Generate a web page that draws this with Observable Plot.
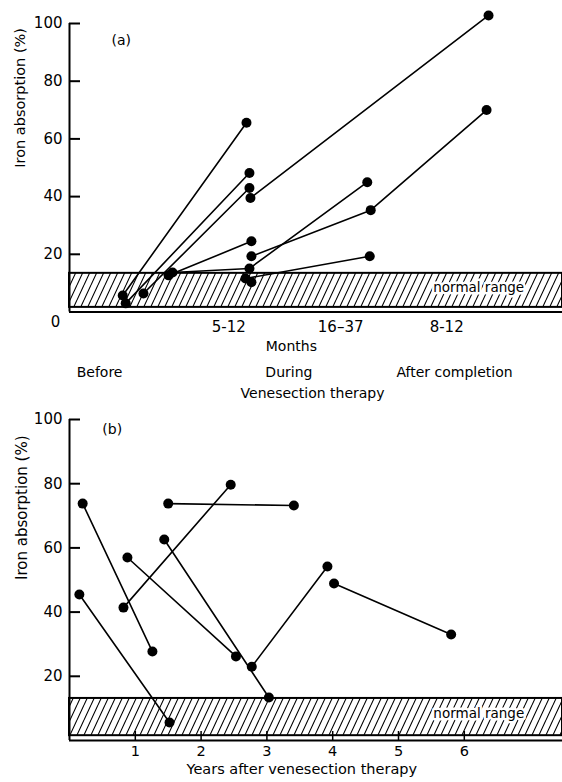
<!DOCTYPE html>
<html><head><meta charset="utf-8">
<script src="https://cdn.jsdelivr.net/npm/d3@7"></script>
<script src="https://cdn.jsdelivr.net/npm/@observablehq/plot@0.6"></script>
<style>
body{margin:0;background:#fff;}
#chart{width:562px;}
#chart svg{display:block;}
</style></head><body>
<svg width="0" height="0" style="position:absolute"><defs>
<pattern id="hatch" patternUnits="userSpaceOnUse" width="7" height="15">
<path d="M0,15 L7,0 M-7,15 L0,0 M7,15 L14,0" stroke="black" stroke-width="1.1"/>
</pattern></defs></svg>
<div id="chart"></div>
<script>
// ---------- Panel (a) ----------
const aId    = ["p1","p1","p2","p2","p3","p3","p4","p4","p5","p5","p5","p6","p6","p7","p7","p7","p8","p8","p9"];
const aPos   = [1.08,3.59, 1.14,3.65, 1.50,3.65, 2.01,3.69, 2.09,3.65,6.04, 3.67,8.50, 3.69,6.11,8.46, 3.57,6.09, 3.69];
const aValue = [5.7,65.6, 3.0,48.2, 6.4,43.0, 12.7,24.5, 13.7,15.1,45, 39.5,102.8, 19.3,35.3,70, 11.6,19.3, 10.3];
const aTickPos    = [3.23, 5.50, 7.65];
const aTickLabels = ["5-12", "16–37", "8-12"];
const aPhasePos   = [0.61, 4.45, 7.81];
const aPhaseLabels= ["Before", "During", "After completion"];
const yTicks = [20, 40, 60, 80, 100];
const normalRange = [{lo: 1.6, hi: 13.4}];
const normalRangeB = [{lo: 1.5, hi: 13.1}];

// ---------- Panel (b) ----------
const bId    = ["q1","q1","q2","q2","q3","q3","q4","q4","q5","q5","q6","q6","q7","q7","q8","q8"];
const bYear  = [0.20,1.26, 0.15,1.52, 0.82,2.45, 0.88,2.53, 1.44,3.03, 1.50,3.41, 2.77,3.92, 4.02,5.80];
const bValue = [73.8,27.7, 45.5,5.6, 41.4,79.7, 57.0,26.2, 62.6,13.4, 73.8,73.2, 23.0,54.2, 48.9,33.0];
const bTicks = [1, 2, 3, 4, 5, 6];

const aData = aId.map((id, i) => ({id, x: aPos[i], y: aValue[i]}));
const bData = bId.map((id, i) => ({id, x: bYear[i], y: bValue[i]}));

const FONT = "DejaVu Sans, sans-serif";
const W = 562, ML = 69, MR = 0;
const frameW = W - ML - MR;
const aXDomain = [0, 10];
const bXDomain = [0, frameW / 65.8];

const A = Plot.plot({
  width: W, height: 405, marginLeft: ML, marginRight: MR, marginTop: 23, marginBottom: 93.5,
  style: {fontFamily: FONT, background: "white", overflow: "visible", color: "black"},
  x: {domain: aXDomain},
  y: {domain: [0, 100]},
  marks: [
    Plot.rect(normalRange, {x1: () => aXDomain[0], x2: () => aXDomain[1], y1: "lo", y2: "hi", fill: "url(#hatch)", stroke: "black", strokeWidth: 2}),
    Plot.ruleY([0], {strokeWidth: 2.2}),
    Plot.ruleX([0], {y1: 0, y2: 100, strokeWidth: 2}),
    Plot.ruleY(yTicks, {insetRight: frameW - 11, strokeWidth: 2}),
    Plot.axisY(yTicks, {tickSize: 0, tickPadding: 7, fontSize: 15, label: null}),
    Plot.axisX(aTickPos, {tickSize: 0, tickPadding: 9, fontSize: 15, label: null, tickFormat: d => aTickLabels[aTickPos.indexOf(d)]}),
    Plot.text(["0"], {x: () => 0, frameAnchor: "bottom", dx: -14, dy: 14.5, fontSize: 15}),
    Plot.text(["Months"], {x: () => 4.5, frameAnchor: "bottom", dy: 38.5, fontSize: 14}),
    Plot.text(aPhaseLabels, {x: (d, i) => aPhasePos[i], frameAnchor: "bottom", dy: 65, fontSize: 14}),
    Plot.text(["Venesection therapy"], {x: () => 4.93, frameAnchor: "bottom", dy: 85.5, fontSize: 14}),
    Plot.text(["Iron absorption (%)"], {frameAnchor: "left", rotate: -90, dx: -49, fontSize: 14.5}),
    Plot.text(["(a)"], {x: () => 1.05, y: () => 94, fontSize: 14}),
    Plot.text(["normal range"], {x: () => 8.3, y: () => 8.5, fontSize: 13.5, fill: "black", stroke: "white", strokeWidth: 5}),
    Plot.line(aData, {x: "x", y: "y", z: "id", stroke: "black", strokeWidth: 1.6}),
    Plot.dot(aData, {x: "x", y: "y", r: 5, fill: "black"})
  ]
});

const B = Plot.plot({
  width: W, height: 377, marginLeft: ML, marginRight: MR, marginTop: 14, marginBottom: 42,
  style: {fontFamily: FONT, background: "white", overflow: "visible", color: "black"},
  x: {domain: bXDomain},
  y: {domain: [0, 100]},
  marks: [
    Plot.rect(normalRangeB, {x1: () => bXDomain[0], x2: () => bXDomain[1], y1: "lo", y2: "hi", fill: "url(#hatch)", stroke: "black", strokeWidth: 2}),
    Plot.ruleY([0], {strokeWidth: 2.2}),
    Plot.ruleX([0], {y1: 0, y2: 100, strokeWidth: 2}),
    Plot.ruleY(yTicks, {insetRight: frameW - 11, strokeWidth: 2}),
    Plot.ruleX(bTicks, {insetTop: 321 - 9, strokeWidth: 1.5}),
    Plot.axisY(yTicks, {tickSize: 0, tickPadding: 7, fontSize: 15, label: null}),
    Plot.axisX(bTicks, {tickSize: 0, tickPadding: 5.5, fontSize: 14.5, label: null}),
    Plot.text(["Years after venesection therapy"], {x: () => 3.53, frameAnchor: "bottom", dy: 33.5, fontSize: 14.5}),
    Plot.text(["Iron absorption (%)"], {frameAnchor: "left", rotate: -90, dx: -47, fontSize: 15}),
    Plot.text(["(b)"], {x: () => 0.65, y: () => 96.9, fontSize: 14}),
    Plot.text(["normal range"], {x: () => 6.22, y: () => 8.4, fontSize: 13.5, fill: "black", stroke: "white", strokeWidth: 5}),
    Plot.line(bData, {x: "x", y: "y", z: "id", stroke: "black", strokeWidth: 1.6}),
    Plot.dot(bData, {x: "x", y: "y", r: 5, fill: "black"})
  ]
});

document.getElementById("chart").append(A, B);
</script></body></html>
